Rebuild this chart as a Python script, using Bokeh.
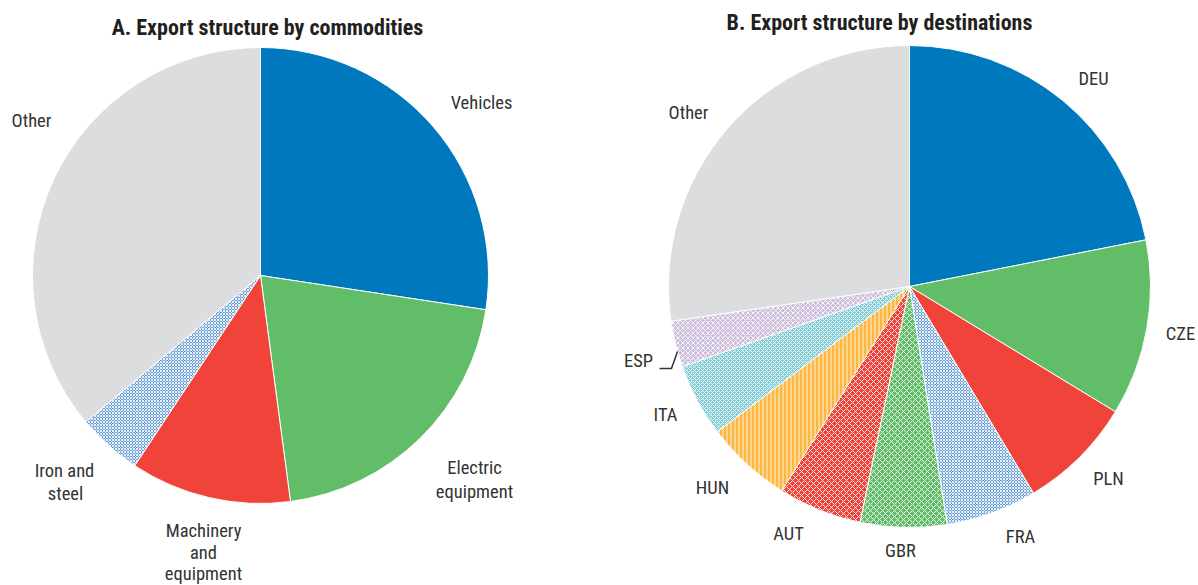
import numpy as np
from bokeh.plotting import figure
from bokeh.models import Range1d, ColumnDataSource
from bokeh.core.properties import value
from bokeh.embed import file_html
from bokeh.resources import INLINE

# ---- data ----
commodities = ["Vehicles", "Electric equipment", "Machinery and equipment", "Iron and steel", "Other"]
commodity_shares = [27.4, 20.5, 11.4, 4.6, 36.1]

destinations = ["DEU", "CZE", "PLN", "FRA", "GBR", "AUT", "HUN", "ITA", "ESP", "Other"]
destination_shares = [21.9, 11.8, 7.7, 6.1, 5.8, 5.6, 5.8, 4.9, 3.1, 27.3]

title_a = "A. Export structure by commodities"
title_b = "B. Export structure by destinations"

# ---- styles ----
BLUE = "#0078be"
GREEN = "#62bd69"
RED = "#f0443a"
GREY = "#dcdddf"
HBLUE = "#6a9fd6"
ORANGE = "#fbb740"
TEAL = "#7dcbd5"
LAV = "#cdbfdc"

styles_a = [
    (BLUE, None, 1), (GREEN, None, 1), (RED, None, 1), (HBLUE, "x", 3), (GREY, None, 1),
]
styles_b = [
    (BLUE, None, 1), (GREEN, None, 1), (RED, None, 1), (HBLUE, "x", 3),
    (GREEN, "x", 6), (RED, "x", 6), (ORANGE, "|", 4), (TEAL, "x", 4), (LAV, "x", 5), (GREY, None, 1),
]

FONT = "Liberation Sans Narrow, Roboto Condensed, Arial Narrow, sans-serif"
W, H = 1198, 585


def sy(y):
    return H - y


p = figure(width=W, height=H, output_backend="svg", toolbar_location=None,
           x_range=Range1d(0, W), y_range=Range1d(0, H),
           min_border=0, match_aspect=False)
p.axis.visible = False
p.grid.visible = False
p.outline_line_color = None
p.background_fill_color = "white"


def draw_pie(cx, cy, r, shares, styles):
    vals = np.array(shares, dtype=float)
    frac = vals / vals.sum()
    cum = np.concatenate([[0], np.cumsum(frac)])
    for i in range(len(vals)):
        start = np.pi / 2 - cum[i + 1] * 2 * np.pi
        end = np.pi / 2 - cum[i] * 2 * np.pi
        color, hatch, scale = styles[i]
        kw = dict(x=cx, y=sy(cy), radius=r, start_angle=start, end_angle=end,
                  fill_color=color, line_color="white", line_width=1)
        if hatch:
            kw.update(hatch_pattern=hatch, hatch_color="white", hatch_scale=scale,
                      hatch_weight=1, hatch_alpha=0.85)
        p.wedge(**kw)


draw_pie(260, 275, 228, commodity_shares, styles_a)
draw_pie(909, 286, 241, destination_shares, styles_b)

# ---- labels (layout) ----
label_lines = [
    ("Vehicles", 481, 102), ("Electric", 474, 467), ("equipment", 474, 491),
    ("Machinery", 203, 530), ("and", 203, 552), ("equipment", 203, 573),
    ("Iron and", 64, 470), ("steel", 65, 493), ("Other", 31, 120),
    ("DEU", 1093, 78), ("CZE", 1180, 333), ("PLN", 1108, 478), ("FRA", 1020, 536),
    ("GBR", 900, 550), ("AUT", 788, 533), ("HUN", 712, 487), ("ITA", 665, 414),
    ("ESP", 638, 360), ("Other", 688, 112),
]
src = ColumnDataSource(dict(x=[l[1] for l in label_lines], y=[sy(l[2]) for l in label_lines],
                            t=[l[0] for l in label_lines]))
p.text(x="x", y="y", text="t", source=src, text_align="center", text_baseline="middle",
       text_font=value(FONT), text_font_size="18.5px", text_color="#333333")

# ESP leader
p.line(x=[659, 671, 677], y=[sy(368), sy(368), sy(351)], line_color="#333333", line_width=1.5)

# titles
p.text(x=[267, 879], y=[sy(27), sy(22)], text=[title_a, title_b], text_align="center",
       text_baseline="middle", text_font=value(FONT), text_font_size="22px",
       text_font_style="bold", text_color="#231f20")

open("out.html", "w").write(file_html(p, INLINE))
